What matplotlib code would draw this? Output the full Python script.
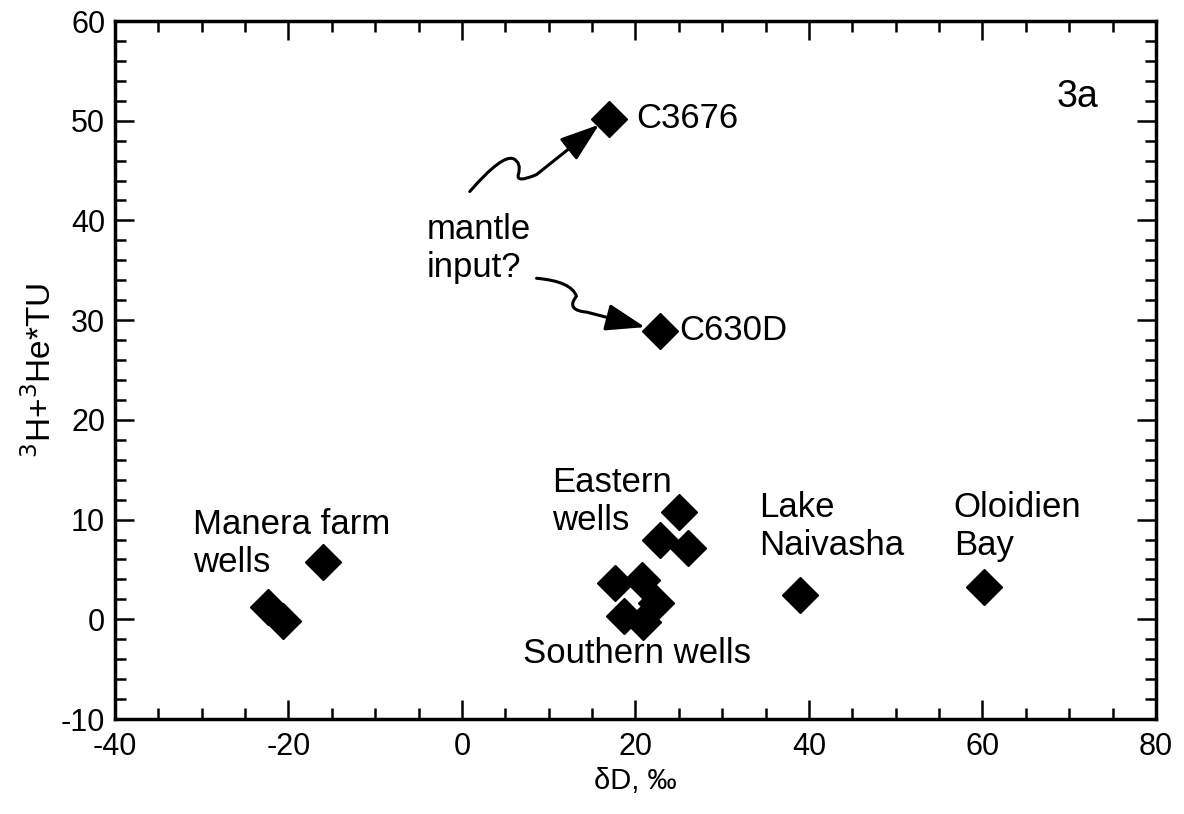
import matplotlib.pyplot as plt
from matplotlib.patches import FancyArrowPatch
from matplotlib.path import Path
from matplotlib.ticker import MultipleLocator

plt.rcParams['font.family'] = ['Liberation Sans', 'DejaVu Sans']
plt.rcParams['axes.unicode_minus'] = False

# dane (dD w promilach, 3H+3He* w TU)
manera_x = [-16.0, -22.4, -20.6]
manera_y = [5.7, 1.2, -0.2]
eastern_x = [25.0, 22.8, 26.0]
eastern_y = [10.8, 8.0, 7.1]
southern_x = [17.6, 20.8, 22.4, 18.7, 20.9]
southern_y = [3.6, 3.9, 1.6, 0.3, -0.3]
lake_x = [39.0]
lake_y = [2.4]
bay_x = [60.2]
bay_y = [3.2]
mantle_x = [17.0, 22.8]
mantle_y = [50.2, 28.9]
mantle_names = ['C3676', 'C630D']

# przebieg strzalek "mantle input?"
arrow1 = [(0.9, 42.9), (4.6, 46.6), (5.9, 46.2), (6.9, 45.8), (6.5, 44.6),
          (6.2, 43.7), (8.6, 44.6), (15.8, 49.6)]
arrow2 = [(8.6, 34.2), (12.6, 33.9), (13.2, 32.4), (11.9, 31.0), (14.4, 30.8),
          (21.1, 29.3)]

fig = plt.figure(figsize=(11.84, 8.14), dpi=100)
ax = fig.add_axes([0.0971, 0.1167, 0.8792, 0.8575])

kw = dict(marker='D', markersize=18, color='black', linestyle='none')
for xs, ys in [(manera_x, manera_y), (eastern_x, eastern_y),
               (southern_x, southern_y), (lake_x, lake_y), (bay_x, bay_y),
               (mantle_x, mantle_y)]:
    ax.plot(xs, ys, **kw)

# podpisy: y = linia bazowa ostatniego wiersza
fs = 25
tk = dict(fontsize=fs, va='baseline', ha='left', linespacing=1.2)
ax.text(20.1, 49.3, mantle_names[0], **tk)
ax.text(25.1, 28.0, mantle_names[1], **tk)
ax.text(-31.0, 4.75, 'Manera farm\nwells', **tk)
ax.text(10.4, 8.95, 'Eastern\nwells', **tk)
ax.text(7.0, -4.4, 'Southern wells', **tk)
ax.text(34.3, 6.4, 'Lake\nNaivasha', **tk)
ax.text(56.7, 6.4, 'Oloidien\nBay', **tk)
ax.text(-4.1, 34.3, 'mantle\ninput?', **tk)
ax.text(68.6, 51.4, '3a', fontsize=27, va='baseline')


def squiggle(pts):
    codes = [Path.MOVETO] + [Path.CURVE3] * (len(pts) - 2) + [Path.LINETO]
    return Path(pts, codes)


for pts in (arrow1, arrow2):
    ax.add_patch(FancyArrowPatch(path=squiggle(pts), arrowstyle='-|>,head_length=1.1,head_width=0.38',
                                 mutation_scale=22, color='black', linewidth=2.2))

ax.set_xlim(-40, 80)
ax.set_ylim(-10, 60)
ax.xaxis.set_major_locator(MultipleLocator(20))
ax.xaxis.set_minor_locator(MultipleLocator(5))
ax.yaxis.set_major_locator(MultipleLocator(10))
ax.yaxis.set_minor_locator(MultipleLocator(2))
ax.tick_params(which='both', direction='in', top=True, right=True, width=1.8)
ax.tick_params(which='major', length=14)
ax.tick_params(which='minor', length=8)
ax.tick_params(axis='x', labelsize=22, pad=9)
ax.tick_params(axis='y', labelsize=22, pad=7)
for s in ax.spines.values():
    s.set_linewidth(2.5)

ax.set_xlabel('δD, ‰', fontsize=21, labelpad=4)
ax.set_ylabel('$^3$H+$^3$He*TU', fontsize=24, labelpad=2)

fig.savefig('out.png', dpi=100)
